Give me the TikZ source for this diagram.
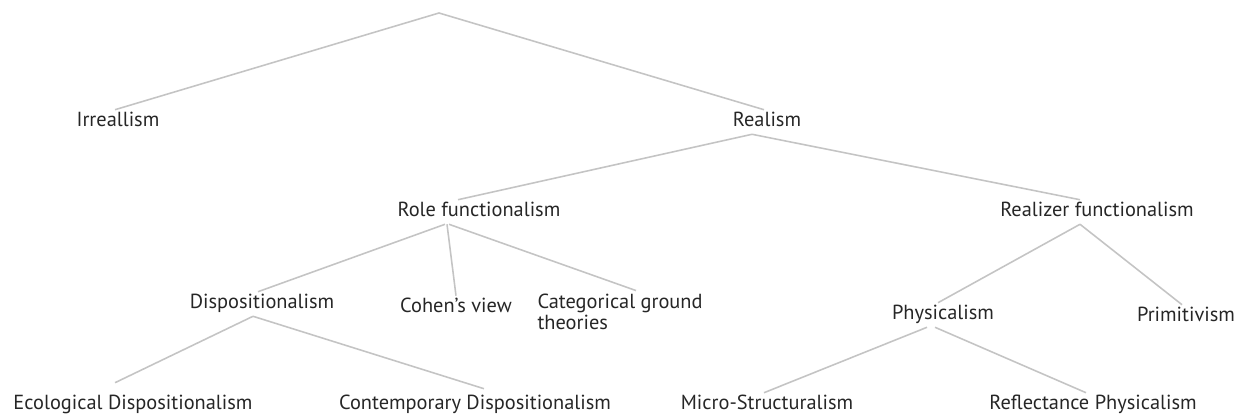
\documentclass[tikz,border=0pt]{standalone}
\usepackage{fontspec}
\setmainfont{PT Sans}
\usetikzlibrary{calc}

\begin{document}
\begin{tikzpicture}[x=0.02cm, y=-0.02cm,
						term/.style={text=black!85, font=\fontsize{11.6}{12}\selectfont, inner sep=0pt, outer sep=0.07cm, text height=0.75em, text depth=0.25em},
						multi/.style={text=black!85, font=\fontsize{11.6}{12}\selectfont, inner sep=0pt, outer sep=0.07cm, align=left},
						branch/.style={draw=black!23, line width=0.9pt}
					]
					\useasboundingbox (0,0) rectangle (1239,418);
					\coordinate (root) at (439,13);
					\node[term] (irreal) at (118,122) {Irreallism};
					\node[term] (real) at (767,122) {Realism};
					\node[term] (rolefn) at (479,212) {Role functionalism};
					\node[term] (realizerfn) at (1097,212) {Realizer functionalism};
					\node[term] (dispo) at (262,304) {Dispositionalism};
					\node[term] (cohen) at (456,308) {Cohen's view};
					\node[multi, anchor=west] (categ) at (534,312) {Categorical ground\\theories};
					\node[term] (phys) at (943,315) {Physicalism};
					\node[term] (prim) at (1186,317) {Primitivism};
					\node[term] (ecodispo) at (133,405) {Ecological Dispositionalism};
					\node[term] (contdispo) at (475,405) {Contemporary Dispositionalism};
					\node[term] (micro) at (767,405) {Micro-Structuralism};
					\node[term] (reflect) at (1093,405) {Reflectance Physicalism};
					\begin{scope}[branch]
					\draw (root) -- ($(irreal.north)+(-3,0)$);
					\draw (root) -- ($(real.north)+(-3,0)$);
					\draw ($(real.south)+(-15,0)$) -- ($(rolefn.north)+(-21,0)$);
					\draw ($(real.south)+(-15,0)$) -- ($(realizerfn.north)+(-17,0)$);
					\draw ($(rolefn.south)+(-34,0)$) -- ($(dispo.north)+(-4,0)$);
					\draw ($(rolefn.south)+(-32,0)$) -- (cohen.north);
					\draw ($(rolefn.south)+(-30,0)$) -- ($(categ.north)+(16,0)$);
					\draw ($(realizerfn.south)+(-17,0)$) -- ($(phys.north)+(-5,0)$);
					\draw ($(realizerfn.south)+(-17,0)$) -- ($(prim.north)+(-4,0)$);
					\draw ($(dispo.south)+(-9,0)$) -- ($(ecodispo.north)+(-18,-10)$);
					\draw ($(dispo.south)+(-9,0)$) -- ($(contdispo.north)+(9,-4)$);
					\draw ($(phys.south)+(-16,0)$) -- ($(micro.north)+(-3,0)$);
					\draw ($(phys.south)+(-8,0)$) -- ($(reflect.north)+(-7,0)$);
					\end{scope}
					\end{tikzpicture}
\end{document}
